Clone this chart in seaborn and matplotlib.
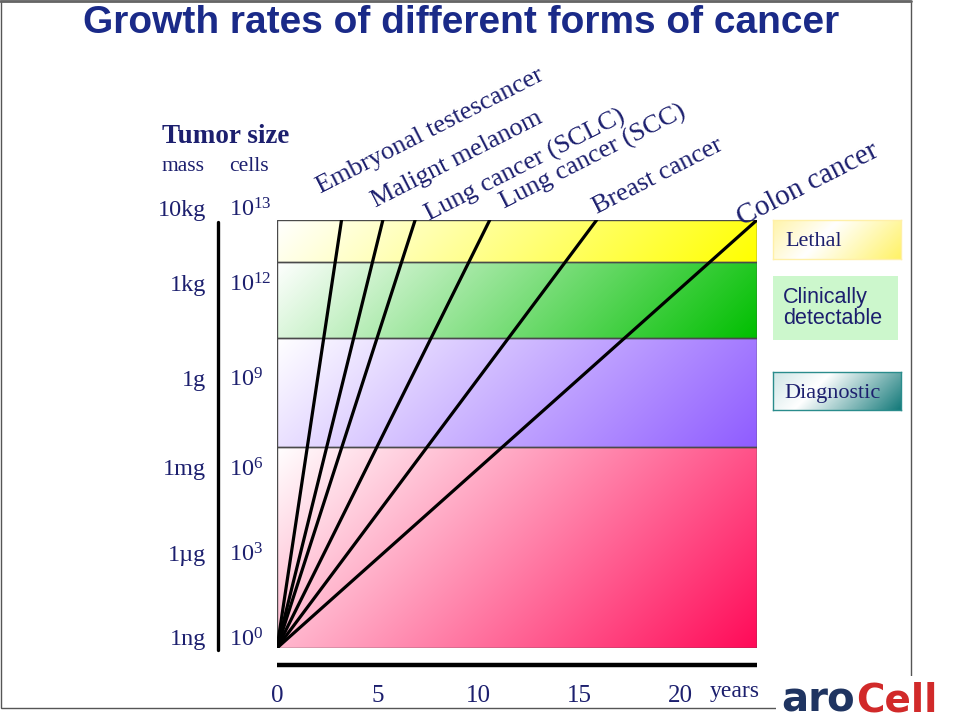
import numpy as np
import pandas as pd
import matplotlib
matplotlib.use("Agg")
import matplotlib.pyplot as plt
import seaborn as sns
from matplotlib.patches import Rectangle
from matplotlib.lines import Line2D
from matplotlib.colors import to_rgb
import matplotlib.transforms as mtransforms

# ---------------- data ----------------
cancers = ["Embryonal testescancer", "Malignt melanom", "Lung cancer (SCLC)",
           "Lung cancer (SCC)", "Breast cancer", "Colon cancer"]
years_to_lethal = [3.2, 5.25, 6.85, 10.55, 15.85, 23.8]   # years to reach top (10^13 cells)
start_level = 0
lethal_level = 100

band_edges = [0, 47.0, 72.4, 90.2, 100]                 # size level scale (0..100)
band_colors = ["#ff0a58", "#8f5cff", "#00bf00", "#ffff00"]

mass_labels = ["1ng", "1µg", "1mg", "1g", "1kg", "10kg"]
cell_exponents = ["0", "3", "6", "9", "12", "13"]
size_levels = [1.9, 21.7, 41.6, 62.6, 84.8, 102.3]

year_ticks = [0, 5, 10, 15, 20]

legend_labels = ["Lethal", "Clinically\ndetectable", "Diagnostic"]

# ---------------- style ----------------
sns.set_theme(style="white")
plt.rcParams["font.family"] = ["Liberation Serif", "DejaVu Serif"]
plt.rcParams["mathtext.fontset"] = "custom"
plt.rcParams["mathtext.rm"] = "Liberation Serif"
plt.rcParams["mathtext.it"] = "Liberation Serif:italic"

NAVY = "#1c1f6e"
TITLE_C = "#1a2a88"

W, H = 960, 720
fig = plt.figure(figsize=(9.6, 7.2), dpi=100)
fig.patch.set_facecolor("white")

def fx(px):
    return px / W

def fy(py):
    return 1 - py / H

# slide border
fig.add_artist(Rectangle((fx(1), fy(708)), fx(910), 707 / H, transform=fig.transFigure,
                         fill=False, edgecolor="#555555", lw=1.0))
fig.add_artist(Line2D([0, fx(911)], [fy(1), fy(1)], transform=fig.transFigure,
                      color="#666666", lw=2))

# title
fig.text(fx(461), fy(33), "Growth rates of different forms of cancer",
         family="Liberation Sans", weight="bold", fontsize=28,
         color=TITLE_C, ha="center", va="baseline")

# main axes
ax = fig.add_axes([fx(277), fy(648), 480 / W, 428 / H])
xmax = years_to_lethal[-1]

AX_W_PX = 480
PX_PER_UNIT = 428 / 100

def gradient(w, h, stops):
    xs = np.arange(w)[None, :]
    ys = np.arange(h)[:, None]
    t = (xs + ys) / max(w + h - 2, 1)
    pos = np.array([s[0] for s in stops])
    cols = np.array([to_rgb(s[1]) for s in stops])
    img = np.zeros((h, w, 3))
    for c in range(3):
        img[..., c] = np.interp(t, pos, cols[:, c])
    return img

for i, col in enumerate(band_colors):
    y0, y1 = band_edges[i], band_edges[i + 1]
    hpx = int(round((y1 - y0) * PX_PER_UNIT))
    img = gradient(AX_W_PX, max(hpx, 2), [(0, "#ffffff"), (1, col)])
    ax.imshow(img, extent=[0, xmax, y0, y1], aspect="auto", origin="upper",
              zorder=0, interpolation="bilinear")
    ax.add_patch(Rectangle((0, y0), xmax, y1 - y0, fill=False,
                           edgecolor="#4a4a4a", lw=1.0, zorder=1))

# growth lines
rows = []
for name, yrs in zip(cancers, years_to_lethal):
    rows.append({"cancer": name, "years": 0, "level": start_level})
    rows.append({"cancer": name, "years": yrs, "level": lethal_level})
df = pd.DataFrame(rows)
sns.lineplot(data=df, x="years", y="level", hue="cancer", palette=["black"] * len(cancers),
             linewidth=2.3, legend=False, ax=ax, sort=False, estimator=None, zorder=3)
ax.set_xlim(0, xmax)
ax.set_ylim(0, 100)

for s in ax.spines.values():
    s.set_visible(False)
ax.set_xlabel("")
ax.set_ylabel("")
ax.set_yticks([])
ax.set_xticks(year_ticks)
ax.set_xticklabels([str(v) for v in year_ticks], fontsize=18, color=NAVY)
ax.tick_params(axis="x", length=0, pad=27)

# x axis bar
ax.plot([0, 1], [-0.04, -0.04], transform=ax.transAxes, clip_on=False,
        color="black", lw=3.2, solid_capstyle="butt")
fig.text(fx(710), fy(697), "years", fontsize=17, color=NAVY, ha="left", va="baseline")

# cancer labels (rotated)
label_pos = [(321, 194), (376, 208), (430, 221), (505, 209), (597, 214), (742, 226)]
label_size = [19, 19, 19, 19, 19, 21]
for name, (px, py), fs in zip(cancers, label_pos, label_size):
    fig.text(fx(px), fy(py), name, fontsize=fs, color=NAVY, rotation=27,
             rotation_mode="anchor", ha="left", va="baseline")

# left size scale
blend = mtransforms.blended_transform_factory(fig.transFigure, ax.transData)
for m, e, lv in zip(mass_labels, cell_exponents, size_levels):
    ax.text(fx(206), lv, m, transform=blend, fontsize=17.5, color=NAVY,
            ha="right", va="center", clip_on=False)
    ax.text(fx(229), lv, r"$\mathrm{10^{%s}}$" % e, transform=blend, fontsize=17.5,
            color=NAVY, ha="left", va="center", clip_on=False)
fig.add_artist(Line2D([fx(218), fx(218)], [fy(222), fy(650)], transform=fig.transFigure,
                      color="black", lw=2.4))
fig.text(fx(162), fy(143), "Tumor size", fontsize=19.5, weight="bold", color=NAVY,
         ha="left", va="baseline")
fig.text(fx(161), fy(171), "mass", fontsize=15.5, color=NAVY, ha="left", va="baseline")
fig.text(fx(229), fy(171), "cells", fontsize=15.5, color=NAVY, ha="left", va="baseline")

# legend boxes
def box(x0, y0, x1, y1, stops, edge=None):
    bax = fig.add_axes([fx(x0), fy(y1), (x1 - x0) / W, (y1 - y0) / H])
    bax.imshow(gradient(x1 - x0, y1 - y0, stops), aspect="auto", origin="upper",
               interpolation="bilinear")
    bax.set_xticks([])
    bax.set_yticks([])
    for s in bax.spines.values():
        if edge is None:
            s.set_visible(False)
        else:
            s.set_edgecolor(edge)
            s.set_linewidth(1.0)
    return bax

box(773, 220, 901, 259, [(0, "#fff4a8"), (0.4, "#ffffff"), (1, "#fff266")], edge="#fff0a8")
box(773, 276, 898, 340, [(0, "#ccf7cc"), (1, "#ccf7cc")])
box(773, 372, 901, 410, [(0, "#cfe6e6"), (0.35, "#ffffff"), (1, "#147a7a")], edge="#2a8c8c")

fig.text(fx(785), fy(246), legend_labels[0], fontsize=16, color=NAVY, ha="left", va="baseline")
fig.text(fx(783), fy(308), legend_labels[1], fontsize=15.5, color=NAVY, ha="left",
         va="center", family="Liberation Sans", linespacing=1.05)
fig.text(fx(784), fy(398), legend_labels[2], fontsize=16, color=NAVY, ha="left", va="baseline")

# logo (white backing so the slide border passes behind it)
fig.add_artist(Rectangle((fx(776), 0), fx(184), 44 / H, transform=fig.transFigure,
                         facecolor="white", edgecolor="none", zorder=5))
fig.text(fx(781), fy(711), "ar", fontsize=29, weight="bold", family="DejaVu Sans",
         color="#1f3461", ha="left", va="baseline", zorder=6)
fig.text(fx(826), fy(711), "o", fontsize=29, weight="bold", family="DejaVu Sans",
         color="#1f3461", ha="left", va="baseline", zorder=6)
fig.text(fx(856), fy(711), "Cell", fontsize=28, weight="bold", family="DejaVu Sans",
         color="#d12a2a", ha="left", va="baseline", zorder=6)

fig.savefig("out.png", dpi=100)
